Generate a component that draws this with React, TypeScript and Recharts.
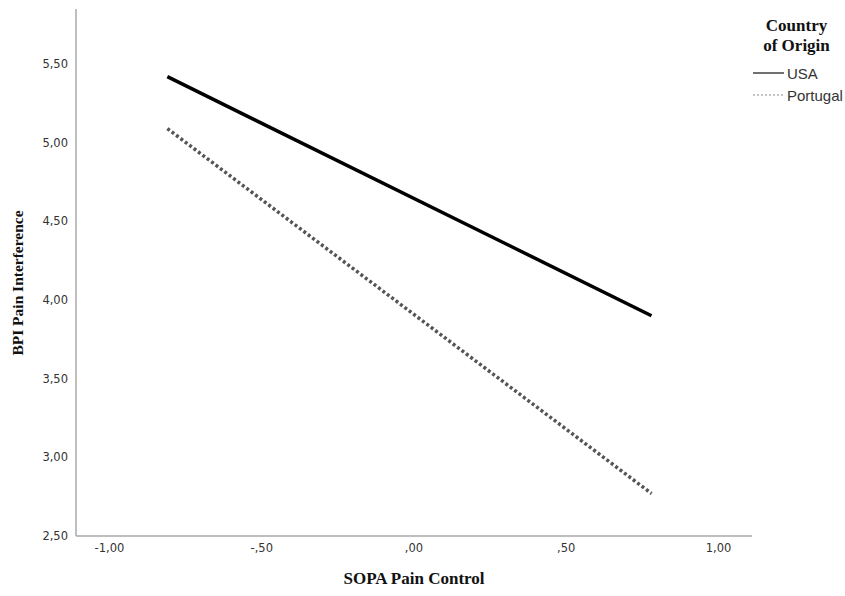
import { CartesianGrid, Line, LineChart, XAxis, YAxis } from 'recharts';

const sopaPoints = [-0.81, 0.78];
const usaValues = [5.42, 3.9];
const portugalValues = [5.09, 2.77];
const xTicks = [-1, -0.5, 0, 0.5, 1];
const yTicks = [2.5, 3, 3.5, 4, 4.5, 5, 5.5];

const data = sopaPoints.map((x, i) => ({
  x,
  usa: usaValues[i],
  portugal: portugalValues[i],
}));

// SPSS style decimals: comma separator, no leading zero
const fmt = (v: number) =>
  v.toFixed(2).replace('.', ',').replace(/^(-?)0,/, '$1,');

const tickStyle = { fill: '#333', fontSize: 11.5, fontFamily: 'DejaVu Sans' };
const serifBold = { fontFamily: 'Liberation Serif', fontWeight: 700, fill: '#111' };

export default function App() {
  return (
    <div style={{ position: 'absolute', left: 0, top: 0, width: 845, height: 596, background: '#fff' }}>
      <LineChart
        width={845}
        height={596}
        data={data}
        margin={{ top: 9, right: 93, bottom: 0, left: 0 }}
      >
        <CartesianGrid stroke="none" />
        <XAxis
          dataKey="x"
          type="number"
          domain={[-1.11, 1.11]}
          ticks={xTicks}
          tickFormatter={fmt}
          tickLine={false}
          height={60}
          allowDataOverflow
          stroke="#a8a8a8"
          strokeWidth={1.5}
          tick={tickStyle}
          label={{
            content: () => (
              <text x={414} y={584} textAnchor="middle" fontSize={17} {...serifBold}>
                SOPA Pain Control
              </text>
            ),
          }}
        />
        <YAxis
          type="number"
          domain={[2.5, 5.85]}
          ticks={yTicks}
          tickFormatter={fmt}
          tickLine={false}
          width={76}
          allowDataOverflow
          stroke="#a8a8a8"
          strokeWidth={1.5}
          tick={tickStyle}
          label={{
            content: () => (
              <text
                x={23}
                y={283}
                textAnchor="middle"
                fontSize={15.5}
                transform="rotate(-90 23 283)"
                {...serifBold}
              >
                BPI Pain Interference
              </text>
            ),
          }}
        />
        <Line
          dataKey="usa"
          stroke="#000"
          strokeWidth={3.5}
          dot={false}
          isAnimationActive={false}
        />
        <Line
          dataKey="portugal"
          stroke="#555"
          strokeWidth={3.5}
          strokeDasharray="3 2.5"
          dot={false}
          isAnimationActive={false}
        />
      </LineChart>
      <div style={{ position: 'absolute', left: 752, top: 16, width: 93, fontFamily: 'Liberation Sans' }}>
        <div
          style={{
            fontFamily: 'Liberation Serif',
            fontWeight: 700,
            fontSize: 17,
            lineHeight: '20px',
            textAlign: 'center',
            color: '#111',
            marginLeft: -4,
          }}
        >
          Country
          <br />
          of Origin
        </div>
        <svg width={93} height={50} style={{ display: 'block', marginTop: 7 }}>
          <line x1={1} x2={32} y1={10} y2={10} stroke="#111" strokeWidth={1.2} />
          <text x={35} y={15.5} fontSize={15} fill="#333">USA</text>
          <line x1={1} x2={32} y1={32} y2={32} stroke="#888" strokeWidth={1.2} strokeDasharray="2 2" />
          <text x={35} y={37.5} fontSize={15} fill="#333">Portugal</text>
        </svg>
      </div>
    </div>
  );
}
